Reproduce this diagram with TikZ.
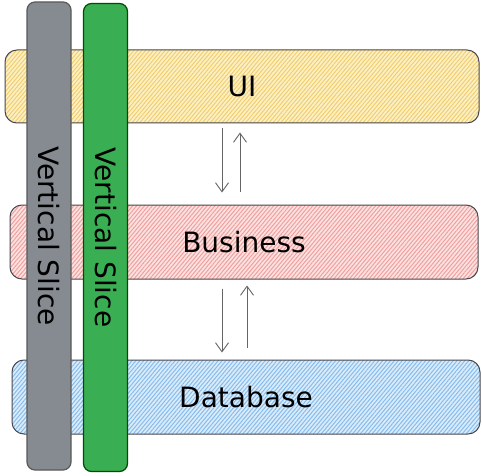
\documentclass[tikz,border=0pt]{standalone}
\usepackage{fontspec}
\setmainfont{DejaVu Sans}
\usetikzlibrary{arrows.meta,patterns.meta}
\definecolor{edgecolor}{RGB}{72,72,78}
\definecolor{uifill}{RGB}{253,240,196}
\definecolor{uiline}{RGB}{240,206,112}
\definecolor{bizfill}{RGB}{253,226,224}
\definecolor{bizline}{RGB}{238,160,160}
\definecolor{dbfill}{RGB}{218,236,252}
\definecolor{dbline}{RGB}{135,188,234}
\definecolor{slicegray}{RGB}{134,139,146}
\definecolor{slicegreen}{RGB}{58,174,82}
\tikzset{
  layer/.style={draw=edgecolor, line width=1pt, rounded corners=12pt, minimum height=73pt, font=\fontsize{28}{32}\selectfont, inner sep=0pt},
  hatch/.style 2 args={preaction={fill=#1}, pattern={Lines[angle=50,distance=3pt,line width=1pt]}, pattern color=#2},
  slice/.style={draw, line width=1.2pt, rounded corners=8pt, rotate=-90, minimum width=468pt, minimum height=44pt, font=\fontsize{28}{32}\selectfont, inner sep=0pt},
  flow/.style={-{Straight Barb[length=9pt,width=13pt]}, line width=0.9pt, draw=black!60},
}

\begin{document}
\begin{tikzpicture}[x=1pt, y=-1pt]
\fill[white] (0,0) rectangle (482,476);
\useasboundingbox (0,0) rectangle (482,476);
% layers
\node[layer, hatch={uifill}{uiline}, minimum width=474pt] (ui) at (242,86.5) {UI};
\node[layer, hatch={bizfill}{bizline}, minimum width=468pt, minimum height=74pt] (business) at (244,242) {Business};
\node[layer, hatch={dbfill}{dbline}, minimum width=468pt, minimum height=74pt] (database) at (246,397) {Database};
% slices
\node[slice, fill=slicegray, draw=black!65] (grayslice) at (49,236) {Vertical Slice};
\node[slice, fill=slicegreen, draw=green!30!black] (greenslice) at (105.5,237.5) {Vertical Slice};
% calls between layers
\draw[flow] ([xshift=-20pt,yshift=-5pt]ui.south) -- ([xshift=-22pt,yshift=12pt]business.north);
\draw[flow] ([xshift=-4pt,yshift=13pt]business.north) -- ([xshift=-2pt,yshift=-9pt]ui.south);
\draw[flow] ([xshift=-22pt,yshift=-9pt]business.south) -- ([xshift=-24pt,yshift=7pt]database.north);
\draw[flow] ([xshift=1pt,yshift=12pt]database.north) -- ([xshift=3pt,yshift=-6pt]business.south);
\end{tikzpicture}
\end{document}
